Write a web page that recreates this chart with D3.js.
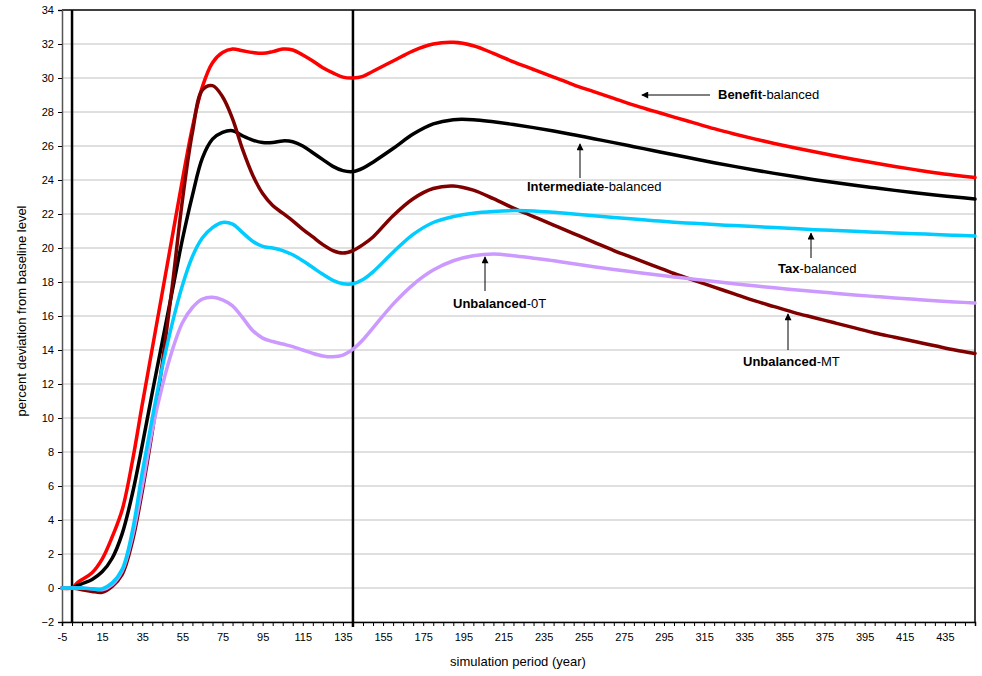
<!DOCTYPE html>
<html>
<head>
<meta charset="utf-8">
<script src="https://cdn.jsdelivr.net/npm/d3@7"></script>
<style>
  body { margin: 0; background: #fff; }
  svg text { font-family: "Liberation Sans", Arial, sans-serif; fill: #000; }
</style>
</head>
<body>
<div id="chart"></div>
<script>
const width = 982;
const height = 676;

// simulation years (x values shared by every series)
const years = [-5, 0, 3,
	5, 10, 15, 20, 25, 30, 35, 40, 45, 50, 55, 60, 65, 70, 75, 80, 85, 90, 95, 100,
	105, 110, 115, 120, 125, 130, 135, 140, 145, 150,
	160, 170, 180, 190, 200, 210, 220, 230, 240, 250, 260, 270, 280, 290, 300,
	310, 320, 330, 340, 350, 360, 370, 380, 390, 400, 410, 420, 430, 440, 450];

const benefitBalanced = [0, 0, 0.35,
	0.5, 0.9, 1.7, 3.0, 4.6, 7.4, 10.8, 14.1, 17.4, 20.7, 24.0, 27.1, 29.5, 30.9, 31.5, 31.7, 31.6, 31.5, 31.45, 31.55,
	31.7, 31.65, 31.35, 31.0, 30.6, 30.3, 30.05, 30.0, 30.1, 30.4,
	31.0, 31.6, 32.0, 32.1, 31.9, 31.45, 30.95, 30.5, 30.05, 29.6, 29.2, 28.8, 28.4, 28.05, 27.7,
	27.36, 27.02, 26.71, 26.42, 26.15, 25.9, 25.66, 25.43, 25.21, 25.0, 24.8, 24.61, 24.43, 24.28, 24.15];

const intermediateBalanced = [0, 0, 0.15,
	0.25, 0.5, 0.95, 1.75, 3.2, 5.5, 8.4, 11.5, 14.5, 17.5, 20.5, 23.1, 25.3, 26.4, 26.8, 26.9, 26.6, 26.35, 26.2, 26.2,
	26.3, 26.25, 26.0, 25.6, 25.2, 24.8, 24.55, 24.5, 24.7, 25.05,
	25.85, 26.7, 27.3, 27.55, 27.55, 27.42, 27.26, 27.08, 26.88, 26.66, 26.43, 26.2, 25.96, 25.72, 25.48,
	25.25, 25.02, 24.8, 24.59, 24.39, 24.2, 24.02, 23.85, 23.69, 23.54, 23.39, 23.25, 23.12, 23.0, 22.88];

const unbalancedMT = [0, 0, -0.05,
	-0.1, -0.2, -0.25, 0.1, 0.8, 2.7, 5.7, 9.2, 13.2, 17.8, 22.8, 26.8, 29.3, 29.55, 28.9, 27.6, 25.8, 24.3, 23.2, 22.5,
	22.05, 21.6, 21.1, 20.65, 20.2, 19.85, 19.7, 19.85, 20.2, 20.65,
	21.9, 22.9, 23.5, 23.65, 23.4, 22.9, 22.35, 21.85, 21.35, 20.85, 20.35, 19.85, 19.4, 18.95, 18.5,
	18.1, 17.7, 17.3, 16.9, 16.55, 16.2, 15.9, 15.6, 15.3, 15.0, 14.75, 14.5, 14.25, 14.0, 13.8];

const unbalanced0T = [0, 0, 0,
	0, -0.05, -0.1, 0.2, 1.0, 3.0, 6.0, 9.3, 11.9, 14.0, 15.6, 16.5, 17.0, 17.1, 16.95, 16.6, 15.9, 15.15, 14.7, 14.5,
	14.35, 14.2, 14.0, 13.8, 13.65, 13.6, 13.7, 14.05, 14.6, 15.3,
	16.7, 17.85, 18.7, 19.25, 19.55, 19.65, 19.55, 19.4, 19.25, 19.07, 18.9, 18.74, 18.59, 18.44, 18.3,
	18.16, 18.03, 17.9, 17.78, 17.66, 17.55, 17.44, 17.34, 17.24, 17.15, 17.06, 16.98, 16.9, 16.83, 16.76];

const taxBalanced = [0, 0, 0,
	0, -0.05, -0.05, 0.3, 1.1, 3.3, 6.8, 10.0, 13.0, 15.6, 17.8, 19.5, 20.6, 21.2, 21.5, 21.4, 20.9, 20.4, 20.1, 20.0,
	19.85, 19.6, 19.25, 18.85, 18.45, 18.1, 17.9, 17.9, 18.15, 18.6,
	19.75, 20.8, 21.5, 21.85, 22.05, 22.15, 22.2, 22.18, 22.1, 22.0, 21.9, 21.8, 21.7, 21.61, 21.52,
	21.45, 21.38, 21.32, 21.26, 21.2, 21.14, 21.08, 21.03, 20.98, 20.93, 20.88, 20.84, 20.8, 20.75, 20.7];

const seriesList = [
	{ name: "Benefit", values: benefitBalanced, color: "#ff0000" },
	{ name: "Intermediate", values: intermediateBalanced, color: "#000000" },
	{ name: "Unbalanced-MT", values: unbalancedMT, color: "#800000" },
	{ name: "Unbalanced-0T", values: unbalanced0T, color: "#cc99ff" },
	{ name: "Tax", values: taxBalanced, color: "#00ccff" }
];

// annotations: bold part, plain part, text position, arrow tail, arrow tip (data coords)
const labels = [
	{ bold: "Benefit", rest: "-balanced", tx: 718, ty: 99, ax1: 710, ay1: 95, year: 283, value: 28.55 },
	{ bold: "Intermediate", rest: "-balanced", tx: 527, ty: 191, ax1: 580, ay1: 178, year: 254, value: 26.3 },
	{ bold: "Tax", rest: "-balanced", tx: 778, ty: 273, ax1: 811, ay1: 258, year: 369, value: 21.05 },
	{ bold: "Unbalanced", rest: "-0T", tx: 453, ty: 308, ax1: 485, ay1: 291, year: 207, value: 19.65 },
	{ bold: "Unbalanced", rest: "-MT", tx: 743, ty: 366, ax1: 788, ay1: 350, year: 358, value: 16.3 }
];

const margin = { top: 10, right: 7, bottom: 54, left: 62 };

const svg = d3
	.select("#chart")
	.append("svg")
	.attr("width", width)
	.attr("height", height);

const x = d3.scaleLinear().domain([-5, 450]).range([margin.left, width - margin.right]);
const y = d3.scaleLinear().domain([-2, 34]).range([height - margin.bottom, margin.top]);

// gridlines
svg.append("g")
	.selectAll("line")
	.data(d3.range(-2, 34, 2))
	.enter()
	.append("line")
	.attr("x1", x(-5))
	.attr("x2", x(450))
	.attr("y1", d => y(d))
	.attr("y2", d => y(d))
	.attr("stroke", "#c0c0c0")
	.attr("stroke-width", 1);

// frame top / right
svg.append("path")
	.attr("d", `M${x(-5)},${y(34)}H${x(450)}V${y(-2)}`)
	.attr("fill", "none")
	.attr("stroke", "#000")
	.attr("stroke-width", 1.5);

// y axis
const yAxis = d3.axisLeft(y)
	.tickValues(d3.range(-2, 35, 2))
	.tickSize(4)
	.tickPadding(4);

svg.append("g")
	.attr("transform", `translate(${x(-5)},0)`)
	.call(yAxis)
	.call(g => g.select(".domain").attr("stroke", "#555").attr("stroke-width", 1.5))
	.call(g => g.selectAll("text").style("font-size", "11px").attr("fill", "#000"));

// x axis
const xAxis = d3.axisBottom(x)
	.tickValues(d3.range(-5, 451, 5))
	.tickSize(4)
	.tickPadding(7)
	.tickFormat(d => ((d + 5) % 20 === 0 && d < 450 ? d : ""));

svg.append("g")
	.attr("transform", `translate(0,${y(-2)})`)
	.call(xAxis)
	.call(g => g.select(".domain").attr("stroke", "#000").attr("stroke-width", 1.5))
	.call(g => g.selectAll("text").style("font-size", "11px").attr("fill", "#000"));

// vertical marker lines at year 0 and 140
svg.append("line")
	.attr("x1", x(0)).attr("x2", x(0))
	.attr("y1", y(34)).attr("y2", y(-2))
	.attr("stroke", "#000").attr("stroke-width", 2.5);

svg.append("line")
	.attr("x1", x(140)).attr("x2", x(140))
	.attr("y1", y(34)).attr("y2", y(-2) + 5)
	.attr("stroke", "#000").attr("stroke-width", 2.5);

// series
const line = d3.line()
	.x((d, i) => x(years[i]))
	.y(d => y(d))
	.curve(d3.curveCatmullRom.alpha(0.5));

svg.append("g")
	.selectAll("path")
	.data(seriesList)
	.enter()
	.append("path")
	.attr("d", d => line(d.values))
	.attr("fill", "none")
	.attr("stroke", d => d.color)
	.attr("stroke-width", 3.5)
	.attr("stroke-linecap", "round")
	.attr("stroke-linejoin", "round");

// arrow head
svg.append("defs")
	.append("marker")
	.attr("id", "arrow")
	.attr("viewBox", "0 0 10 10")
	.attr("refX", 9)
	.attr("refY", 5)
	.attr("markerWidth", 9)
	.attr("markerHeight", 7)
	.attr("markerUnits", "userSpaceOnUse")
	.attr("orient", "auto")
	.append("path")
	.attr("d", "M0,0L10,5L0,10Z")
	.attr("fill", "#000");

const notes = svg.append("g");

labels.forEach(l => {
	const horizontal = l.bold === "Benefit";
	notes.append("line")
		.attr("x1", l.ax1)
		.attr("y1", l.ay1)
		.attr("x2", horizontal ? x(l.year) + 2 : l.ax1)
		.attr("y2", horizontal ? l.ay1 : y(l.value) + 3)
		.attr("stroke", "#000")
		.attr("stroke-width", 1)
		.attr("marker-end", "url(#arrow)");

	const t = notes.append("text")
		.attr("x", l.tx)
		.attr("y", l.ty)
		.style("font-size", "13px");
	t.append("tspan").attr("font-weight", "bold").text(l.bold);
	t.append("tspan").text(l.rest);
});

// axis titles
svg.append("text")
	.attr("x", 518)
	.attr("y", 666)
	.attr("text-anchor", "middle")
	.style("font-size", "13px")
	.text("simulation period (year)");

svg.append("text")
	.attr("transform", "translate(26,311) rotate(-90)")
	.attr("text-anchor", "middle")
	.style("font-size", "13px")
	.text("percent deviation from baseline level");
</script>
</body>
</html>
